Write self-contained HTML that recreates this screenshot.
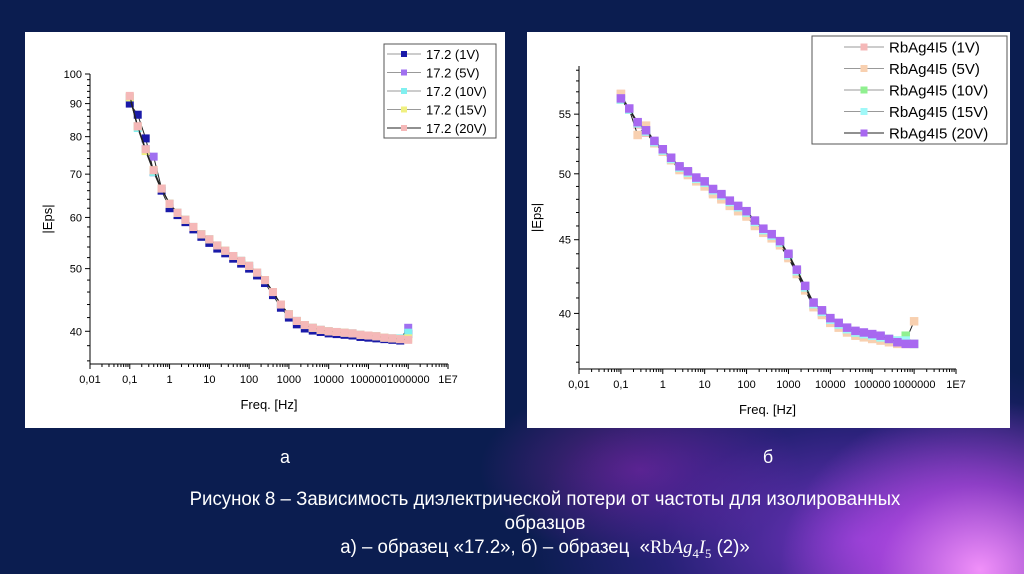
<!DOCTYPE html>
<html><head><meta charset="utf-8">
<style>
html,body{margin:0;padding:0;}
body{width:1024px;height:574px;overflow:hidden;position:relative;font-family:"Liberation Sans",sans-serif;
background:#0b1d50;}
#bg{position:absolute;left:0;top:0;width:1024px;height:574px;
background:
radial-gradient(ellipse 200px 170px at 980px 570px, rgba(250,150,255,0.95), rgba(200,80,240,0.6) 50%, rgba(100,40,200,0) 100%),
radial-gradient(ellipse 330px 190px at 860px 540px, rgba(150,60,230,0.75), rgba(90,40,190,0.35) 60%, rgba(60,30,140,0) 100%),
radial-gradient(ellipse 160px 90px at 640px 470px, rgba(170,40,190,0.5), rgba(60,30,140,0) 100%),
#0b1d50;}
.panel{position:absolute;background:#fff;}
.cap{position:absolute;color:#fff;font-size:16px;text-align:center;}
</style></head>
<body>
<div id="bg"></div>
<div class="panel" style="left:25px;top:32px;width:480px;height:396px">
<svg id="chartA" width="480" height="396"></svg></div>
<div class="panel" style="left:527px;top:32px;width:483px;height:396px">
<svg id="chartB" width="483" height="396"></svg></div>
<div class="cap" style="left:270px;top:447px;width:30px;font-size:18px">а</div>
<div class="cap" style="left:753px;top:447px;width:30px;font-size:18px">б</div>
<div class="cap" style="left:100px;top:488px;width:890px;line-height:24px;font-size:19px;transform:scaleX(0.98)">Рисунок 8 – Зависимость диэлектрической потери от частоты для изолированных<br>образцов<br>а) – образец «17.2», б) – образец &nbsp;«<span style="font-family:'Liberation Serif',serif">Rb<i>Ag</i><sub style="font-size:13px">4</sub><i>I</i><sub style="font-size:13px">5</sub></span> (2)»</div>
<script>
const freqExp=[-1,-0.8,-0.6,-0.4,-0.2,0,0.2,0.4,0.6,0.8,1,1.2,1.4,1.6,1.8,2,2.2,2.4,2.6,2.8,3,3.2,3.4,3.6,3.8,4,4.2,4.4,4.6,4.8,5,5.2,5.4,5.6,5.8,6];
const xTickLabels=["0,01","0,1","1","10","100","1000","10000","100000","1000000","1E7"];
const aSeriesNames=["17.2 (1V)","17.2 (5V)","17.2 (10V)","17.2 (15V)","17.2 (20V)"];
const aColors=["#1a1aa8","#a070f0","#80f0f0","#f0f080","#f5b8b8"];
const a1V=[90,86.5,79.5,70.5,66,62,60.5,59,57.5,56,54.8,53.7,52.8,51.8,50.9,50,48.8,47.5,45.5,43.5,42,41,40.4,40.1,39.9,39.7,39.6,39.5,39.4,39.2,39.1,39.0,38.9,38.8,38.7,39.6];
const a5V=[92,83,76.5,74.5,66.5,63,61,59.5,58,56.5,55.5,54.3,53.3,52.3,51.4,50.5,49.3,48,46,44,42.5,41.5,40.9,40.5,40.2,40,39.9,39.8,39.7,39.5,39.4,39.3,39.1,39,38.9,40.5];
const a10V=[92,82.5,76,70.5,66.5,63,61,59.5,58,56.5,55.5,54.3,53.3,52.3,51.4,50.5,49.3,48,46,44,42.5,41.5,40.9,40.5,40.2,40,39.9,39.8,39.7,39.5,39.4,39.3,39.1,39,39.0,39.8];
const a15V=[92,83,76,71,66.5,63,61,59.5,58,56.5,55.5,54.3,53.3,52.3,51.4,50.5,49.3,48,46,44,42.5,41.5,40.9,40.5,40.2,40,39.9,39.8,39.7,39.5,39.4,39.3,39.1,39,38.9,39.0];
const a20V=[92.5,83,76.5,71,66.5,63,61,59.5,58,56.5,55.5,54.3,53.3,52.3,51.4,50.5,49.3,48,46,44,42.5,41.5,40.9,40.5,40.2,40,39.9,39.8,39.7,39.5,39.4,39.3,39.1,39,38.9,38.8];
const aYTicks=[40,50,60,70,80,90,100];
const bSeriesNames=["RbAg4I5 (1V)","RbAg4I5 (5V)","RbAg4I5 (10V)","RbAg4I5 (15V)","RbAg4I5 (20V)"];
const bColors=["#f5b8b8","#f8d0b0","#90f090","#a0f8f8","#a868f0"];
const b20V=[56.4,55.5,54.3,53.6,52.7,52.0,51.3,50.6,50.2,49.7,49.4,48.8,48.4,47.9,47.5,47.1,46.4,45.8,45.4,44.9,44.0,42.9,41.8,40.7,40.2,39.7,39.4,39.1,38.9,38.8,38.7,38.6,38.4,38.2,38.1,38.1];
const b1V=[56.8,55.4,54.1,53.4,52.5,51.8,51.1,50.4,50.0,49.5,49.1,48.5,48.1,47.6,47.2,46.8,46.1,45.6,45.2,44.7,43.8,42.7,41.6,40.5,40.0,39.5,39.2,38.9,38.7,38.6,38.5,38.4,38.3,38.2,38.1,38.1];
const b5V=[56.8,55.4,53.2,54.0,52.5,51.8,51.1,50.3,49.9,49.4,49.0,48.4,48.0,47.5,47.1,46.7,46.0,45.5,45.1,44.6,43.7,42.6,41.5,40.4,39.9,39.4,39.1,38.8,38.6,38.5,38.4,38.3,38.2,38.1,38.3,39.5];
const b10V=[56.3,55.4,54.2,53.5,52.6,51.9,51.2,50.5,50.1,49.6,49.3,48.7,48.3,47.8,47.4,47.0,46.3,45.7,45.3,44.8,43.9,42.8,41.7,40.6,40.1,39.6,39.3,39.0,38.8,38.7,38.6,38.5,38.4,38.3,38.6,38.1];
const b15V=[56.3,55.4,54.2,53.5,52.6,51.9,51.2,50.5,50.1,49.6,49.3,48.7,48.3,47.8,47.4,47.0,46.3,45.7,45.3,44.8,43.9,42.8,41.7,40.6,40.1,39.6,39.3,39.0,38.8,38.7,38.6,38.5,38.4,38.3,38.3,38.1];
const bYTicks=[40,45,50,55];

const NS="http://www.w3.org/2000/svg";
function mk(svg,tag,attrs,name){const e=document.createElementNS(NS,tag);for(const k in attrs)e.setAttribute(k,attrs[k]);


svg.appendChild(e);return e;}
function drawChart(id,cfg){
  const svg=document.getElementById(id);
  const X=e=>cfg.x0+(e+2)/9*(cfg.x1-cfg.x0);
  const ly0=Math.log10(cfg.ymin),ly1=Math.log10(cfg.ymax);
  const Y=v=>cfg.yb-(Math.log10(v)-ly0)/(ly1-ly0)*(cfg.yb-cfg.yt);
  const ax="#000";
  mk(svg,'line',{x1:cfg.x0,y1:cfg.yb,x2:cfg.x1,y2:cfg.yb,stroke:ax,'stroke-width':1},'x-axis');
  mk(svg,'line',{x1:cfg.x0,y1:cfg.yb,x2:cfg.x0,y2:cfg.yt,stroke:ax,'stroke-width':1},'y-axis');
  for(let d=-2;d<=7;d++){
    const x=X(d);
    mk(svg,'line',{x1:x,y1:cfg.yb,x2:x,y2:cfg.yb+5,stroke:ax},'x-major-tick');
    const t=mk(svg,'text',{x:x,y:cfg.yb+19,'font-size':11,'text-anchor':'middle',fill:'#000','font-family':'Liberation Sans'},'x-tick-label');
    t.textContent=xTickLabels[d+2];
    if(d<7)for(let m=2;m<10;m++){const xm=X(d+Math.log10(m));
      mk(svg,'line',{x1:xm,y1:cfg.yb,x2:xm,y2:cfg.yb+3,stroke:ax},'x-minor-tick');}
  }
  for(let v=Math.ceil(cfg.ymin);v<=cfg.ymax;v++){const y=Y(v);
    const major=cfg.yticks.includes(v);
    if(!major&&v%cfg.minorStep)continue;
    mk(svg,'line',{x1:cfg.x0-(major?5:3),y1:y,x2:cfg.x0,y2:y,stroke:ax},major?'y-major-tick':'y-minor-tick');}
  cfg.yticks.forEach(v=>{const t=mk(svg,'text',{x:cfg.x0-8,y:Y(v)+4,'font-size':11,'text-anchor':'end',fill:'#000','font-family':'Liberation Sans'},'y-tick-label');t.textContent=v;});
  const yl=mk(svg,'text',{x:0,y:0,'font-size':13,'text-anchor':'middle',fill:'#000','font-family':'Liberation Sans',transform:`translate(${cfg.x0-38},${(cfg.yt+cfg.yb)/2}) rotate(-90)`},'y-axis-title');yl.textContent="|Eps|";
  const xl=mk(svg,'text',{x:(cfg.x0+cfg.x1)/2,y:cfg.yb+45,'font-size':13,'text-anchor':'middle',fill:'#000','font-family':'Liberation Sans'},'x-axis-title');xl.textContent="Freq. [Hz]";
  const s=cfg.ms;
  cfg.series.forEach((vals,i)=>{
    const pts=vals.map((v,j)=>X(freqExp[j])+','+Y(v)).join(' ');
    mk(svg,'polyline',{points:pts,fill:'none',stroke:'#222','stroke-width':1},'series-line-'+(i+1));
    vals.forEach((v,j)=>mk(svg,'rect',{x:X(freqExp[j])-s/2,y:Y(v)-s/2,width:s,height:s,fill:cfg.colors[i]},'series-'+(i+1)+'-point'));
  });
  const L=cfg.legend, ls=cfg.lms;
  mk(svg,'rect',{x:L.x,y:L.y,width:L.w,height:L.h,fill:'#fff',stroke:'#555','stroke-width':1},'legend-box');
  cfg.names.forEach((n,i)=>{const y=L.y+L.pad+i*L.step;
    mk(svg,'line',{x1:L.x+L.lx,y1:y,x2:L.x+L.lx+L.lw,y2:y,stroke:i==4?'#222':'#999','stroke-width':1},'legend-line');
    mk(svg,'rect',{x:L.x+L.lx+L.lw/2-ls/2,y:y-ls/2,width:ls,height:ls,fill:cfg.colors[i]},'legend-marker');
    const t=mk(svg,'text',{x:L.x+L.lx+L.lw+5,y:y+L.fs*0.37,'font-size':L.fs,fill:'#000','font-family':'Liberation Sans'},'legend-entry');t.textContent=n;});
}
drawChart('chartA',{x0:65,x1:423,yb:332,yt:42,ymin:35.6,ymax:100,yticks:aYTicks,minorStep:2,ms:8,lms:6,
  series:[a1V,a5V,a10V,a15V,a20V],colors:aColors,names:aSeriesNames,
  legend:{x:359,y:12,w:112,h:94,pad:10,step:18.5,lx:3,lw:34,fs:13}});
drawChart('chartB',{x0:52,x1:429,yb:337,yt:34,ymin:36.6,ymax:59.4,yticks:bYTicks,minorStep:1,ms:8.5,lms:7,
  series:[b1V,b5V,b10V,b15V,b20V],colors:bColors,names:bSeriesNames,
  legend:{x:285,y:4,w:195,h:108,pad:11,step:21.5,lx:32,lw:40,fs:15}});
</script>
</body></html>
